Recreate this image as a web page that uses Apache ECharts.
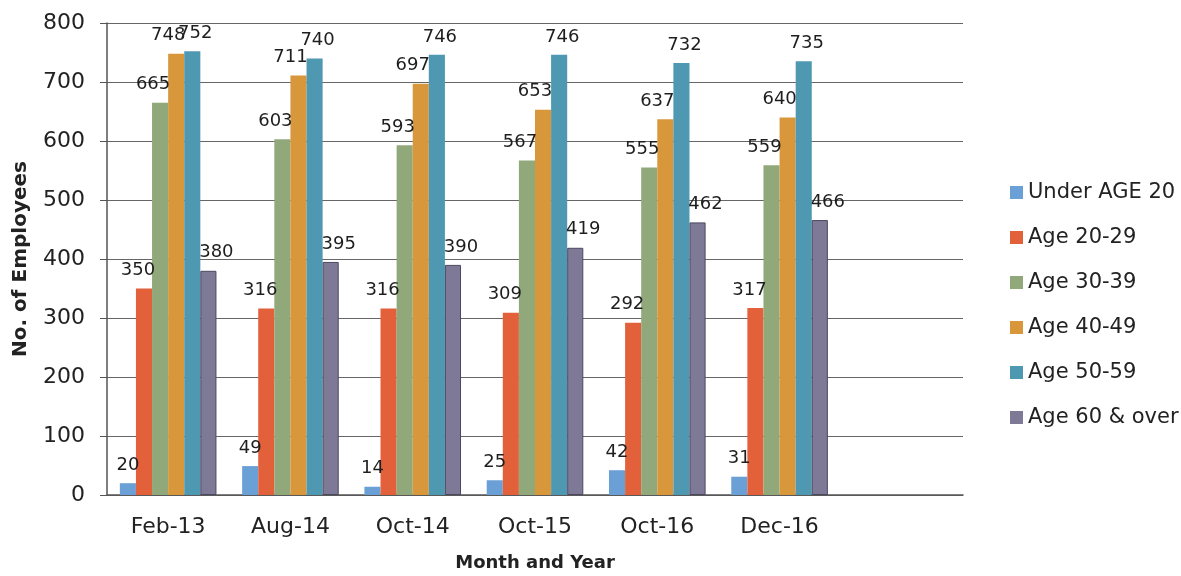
<!DOCTYPE html>
<html>
<head>
<meta charset="utf-8">
<script src="https://cdn.jsdelivr.net/npm/echarts@6/dist/echarts.min.js"></script>
<style>
  html, body { margin: 0; padding: 0; background: #fff; }
  #chart { width: 1181px; height: 576px; }
</style>
</head>
<body>
<div id="chart"></div>
<script>
// categories (the last, empty slot keeps the plot area as wide as the original)
const months = ['Feb-13', 'Aug-14', 'Oct-14', 'Oct-15', 'Oct-16', 'Dec-16']
const seriesNames = ['Under AGE 20', 'Age 20-29', 'Age 30-39', 'Age 40-49', 'Age 50-59', 'Age 60 & over']

const under20 = [20, 49, 14, 25, 42, 31]
const age20to29 = [350, 316, 316, 309, 292, 317]
const age30to39 = [665, 603, 593, 567, 555, 559]
const age40to49 = [748, 711, 697, 653, 637, 640]
const age50to59 = [752, 740, 746, 746, 732, 735]
const age60plus = [380, 395, 390, 419, 462, 466]

const yTicks = [0, 100, 200, 300, 400, 500, 600, 700, 800]

const colors = ['#6aa0d6', '#e2603a', '#90a87a', '#d8973a', '#4f98b2', '#7e7996']
const labelShift = [0, -6, -7, -8, 3, 8]

const chart = echarts.init(document.getElementById('chart'))
const font = 'DejaVu Sans'

const seriesData = [under20, age20to29, age30to39, age40to49, age50to59, age60plus].map((vals, i) => {
  const item = {
    name: seriesNames[i],
    type: 'bar',
    data: vals,
    barGap: 0,
    barCategoryGap: '21%',
    itemStyle: { color: colors[i] },
    label: {
      show: true,
      position: 'top',
      distance: 9,
      offset: [labelShift[i], 0],
      color: '#1e1e1e',
      fontFamily: font,
      fontSize: 18
    }
  }
  if (i === 5) {
    item.itemStyle.borderColor = '#4b4860'
    item.itemStyle.borderWidth = 1
  }
  return item
})

chart.setOption({
  backgroundColor: '#fff',
  animation: false,
  color: colors,
  grid: {
    left: 107,
    right: 218,
    top: 23,
    bottom: 81,
    outerBoundsMode: 'none'
  },
  legend: {
    orient: 'vertical',
    left: 1005,
    top: 177,
    icon: 'rect',
    itemWidth: 13,
    itemHeight: 13,
    itemGap: 24,
    data: seriesNames,
    itemStyle: { borderWidth: 0 },
    textStyle: {
      fontFamily: font,
      fontSize: 21,
      color: '#222'
    }
  },
  xAxis: {
    type: 'category',
    data: months.concat(['']),
    name: 'Month and Year',
    nameLocation: 'middle',
    nameGap: 59,
    nameTextStyle: {
      fontFamily: font,
      fontSize: 18,
      fontWeight: 'bold',
      color: '#222'
    },
    axisLine: { lineStyle: { color: '#555', width: 1.5 } },
    axisTick: { show: false },
    axisLabel: {
      margin: 21,
      fontFamily: font,
      fontSize: 22,
      color: '#222'
    }
  },
  yAxis: {
    type: 'value',
    min: 0,
    max: 800,
    interval: 100,
    name: 'No. of Employees',
    nameLocation: 'middle',
    nameGap: 76,
    nameTextStyle: {
      fontFamily: font,
      fontSize: 20,
      fontWeight: 'bold',
      color: '#222'
    },
    axisLine: { show: true, lineStyle: { color: '#555', width: 1.5 } },
    axisTick: { show: true, length: 7, lineStyle: { color: '#555' } },
    splitLine: { lineStyle: { color: '#666', width: 1.2 } },
    axisLabel: {
      margin: 22,
      fontFamily: font,
      fontSize: 22,
      color: '#222',
      formatter: (v) => yTicks.includes(v) ? String(v) : ''
    }
  },
  series: seriesData
})
</script>
</body>
</html>
